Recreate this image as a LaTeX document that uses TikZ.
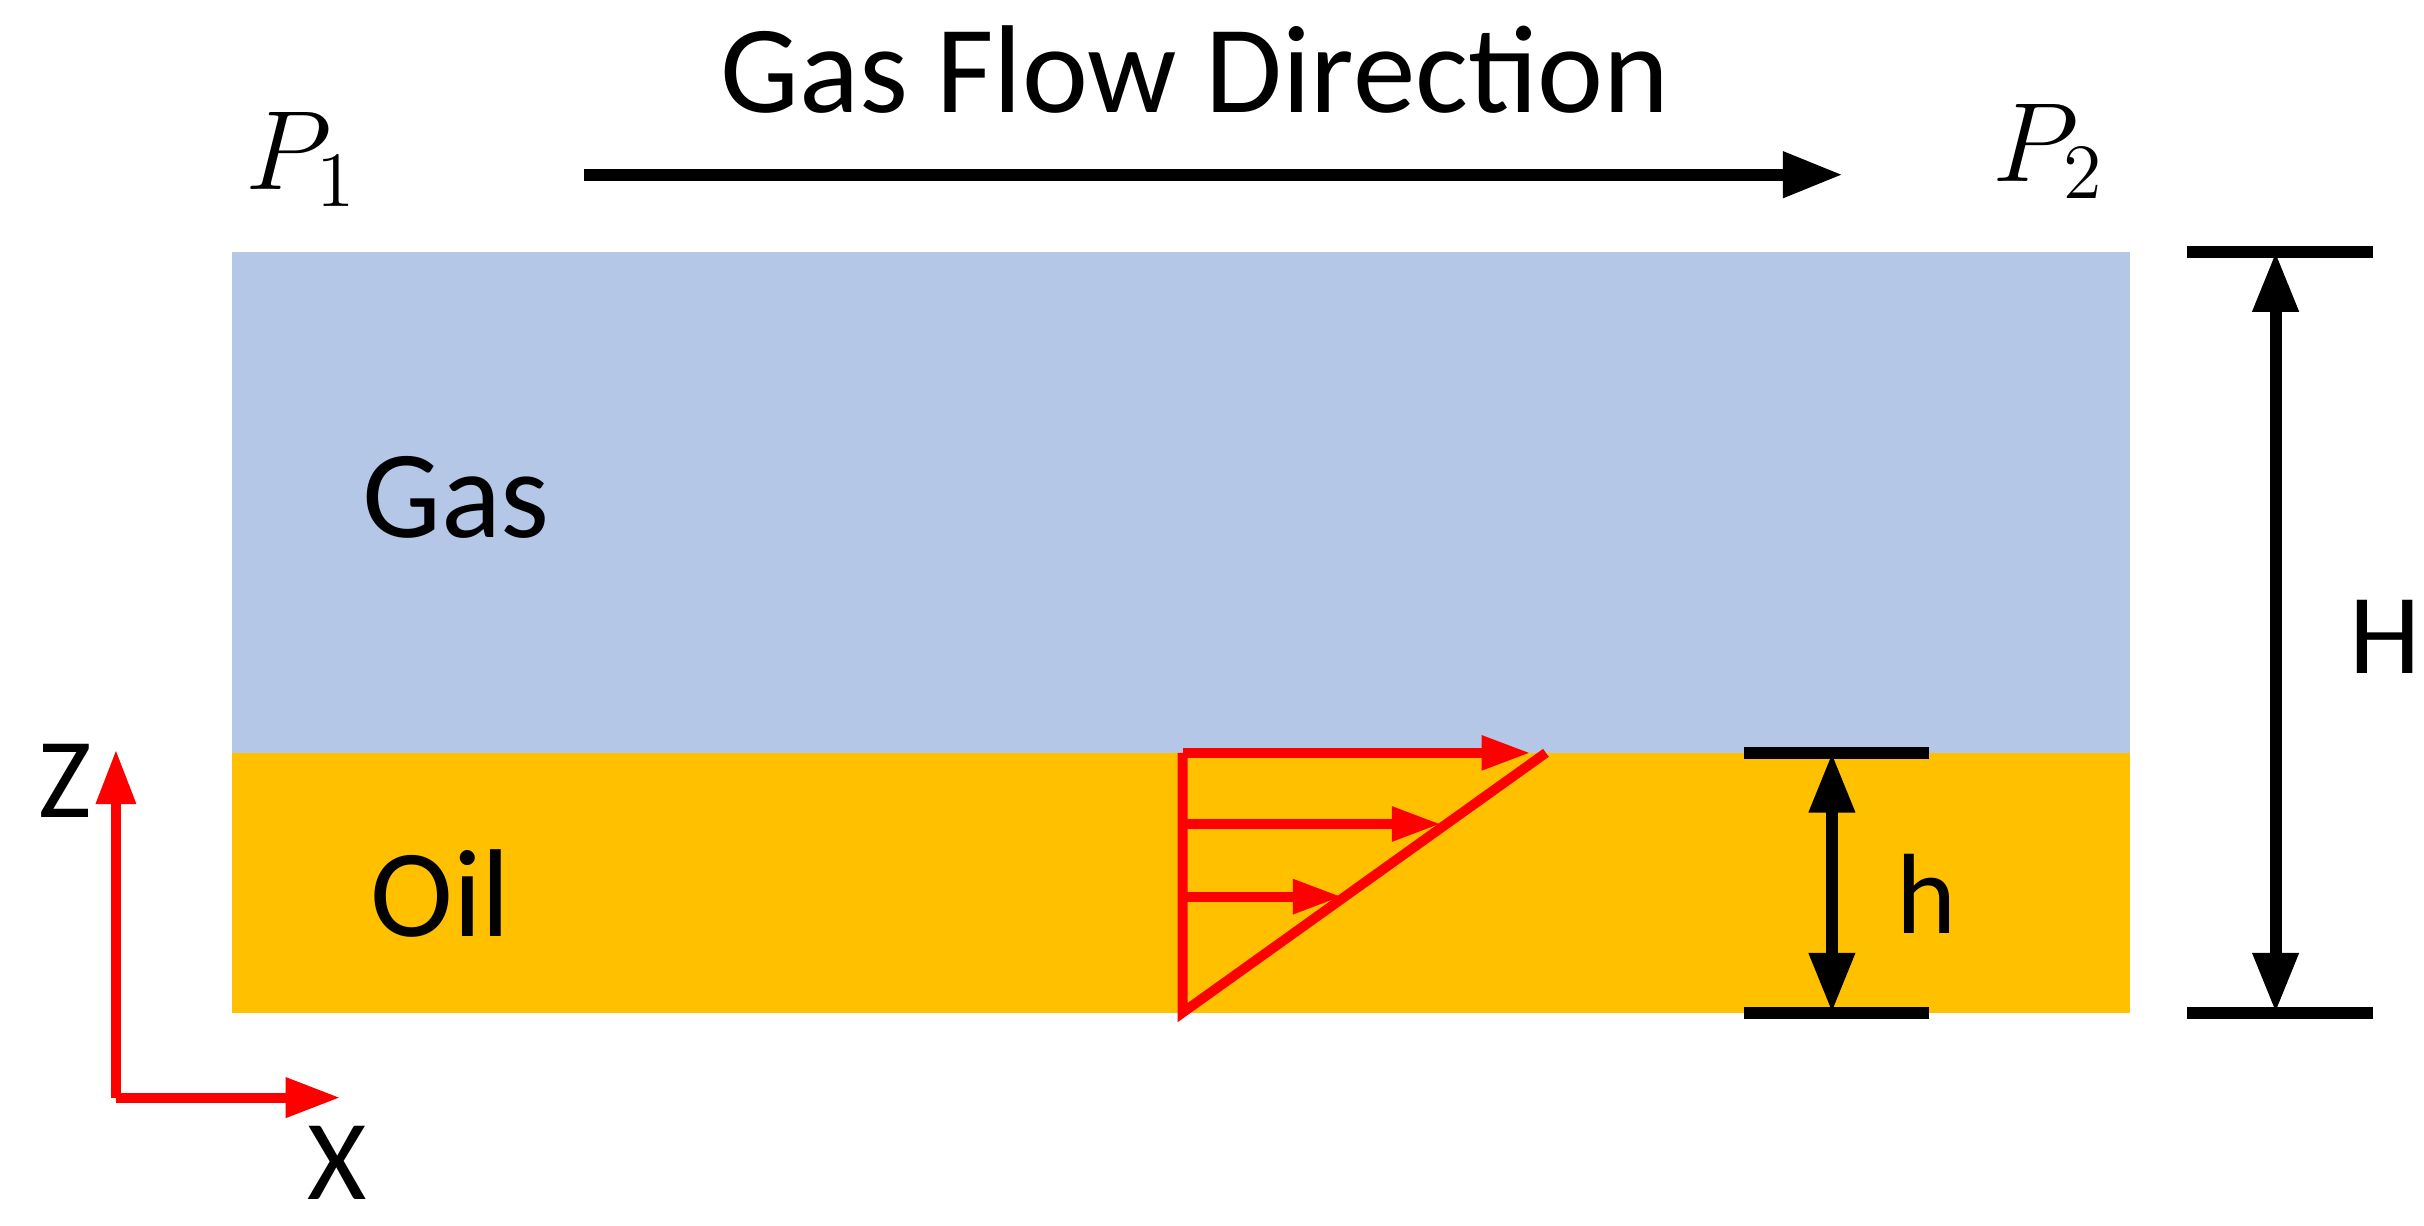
\documentclass[tikz,border=0pt]{standalone}
\usepackage{fontspec}
\setmainfont{Carlito}
\usetikzlibrary{arrows.meta}
\definecolor{gasblue}{RGB}{180,199,231}
\definecolor{oilyellow}{RGB}{255,192,0}
\begin{document}
\begin{tikzpicture}[
    x=0.01cm, y=-0.01cm,
    % Styles
    label/.style={ % Plain text labels
        inner sep=0pt,
        font=\fontsize{23}{26}\selectfont
    },
    bar/.style={ % Dimension end bars
        line width=2.2pt
    },
    dim/.style={ % Dimension arrows
        {Triangle[length=11pt,width=8pt]}-{Triangle[length=11pt,width=8pt]},
        line width=2.2pt
    },
    flow/.style={ % Gas flow arrow
        -{Triangle[length=11pt,width=8pt]},
        line width=2.2pt
    },
    axis/.style={ % Red coordinate axes
        -{Triangle[length=10pt,width=7pt]},
        red,
        line width=1.8pt
    },
    vel/.style={ % Velocity profile arrows
        -{Triangle[length=9pt,width=6pt]},
        red,
        line width=1.8pt
    }
]
    \useasboundingbox (0,0) rectangle (1568,793);

    % Layers
    \fill [gasblue] (150,163) rectangle (1378,487);
    \fill [oilyellow] (150,487) rectangle (1378,655);
    \node [label] (gas) at (295,322) {Gas};
    \node [label] (oil) at (285,578) {Oil};

    % Flow direction and pressures
    \node [label] (title) at (773,45) {Gas Flow Direction};
    \coordinate (fs) at (378,113);
    \coordinate (fe) at (1192,113);
    \draw [flow] (fs) -- (fe);
    \node [label, font=\fontsize{22}{24}\selectfont] (p1) at (195,103) {$P_1$};
    \node [label, font=\fontsize{22}{24}\selectfont] (p2) at (1325,98) {$P_2$};

    % Total height H
    \coordinate (Ht) at (1472,163);
    \coordinate (Hb) at (1472,655);
    \draw [bar] (1415,163) -- (1535,163);
    \draw [bar] (1415,655) -- (1535,655);
    \draw [dim] (Ht) -- (Hb);
    \node [label, font=\fontsize{21}{24}\selectfont] (H) at (1543,412) {H};

    % Oil height h
    \coordinate (ht) at (1185,487);
    \coordinate (hb) at (1185,655);
    \draw [bar] (1128,487) -- (1248,487);
    \draw [bar] (1128,655) -- (1248,655);
    \draw [dim] (ht) -- (hb);
    \node [label, font=\fontsize{21}{24}\selectfont] (h) at (1246,578) {h};

    % Axes
    \coordinate (o) at (75,710);
    \coordinate (zt) at (75,485);
    \coordinate (xt) at (220,710);
    \draw [axis] (o) -- (zt);
    \draw [axis] (o) -- (xt);
    \node [label, font=\fontsize{21}{24}\selectfont] (z) at (42,505) {Z};
    \node [label, font=\fontsize{21}{24}\selectfont] (xl) at (218,752) {X};

    % Velocity profile
    \coordinate (vb) at (765,655);
    \coordinate (vt) at (765,487);
    \coordinate (vd) at (1000,487);
    \draw [red, line width=1.8pt] (vt) -- (vb) -- (vd);
    \draw [vel] (vt) -- (990,487);
    \draw [vel] (765,533) -- (932,533);
    \draw [vel] (765,580) -- (868,580);
\end{tikzpicture}
\end{document}
